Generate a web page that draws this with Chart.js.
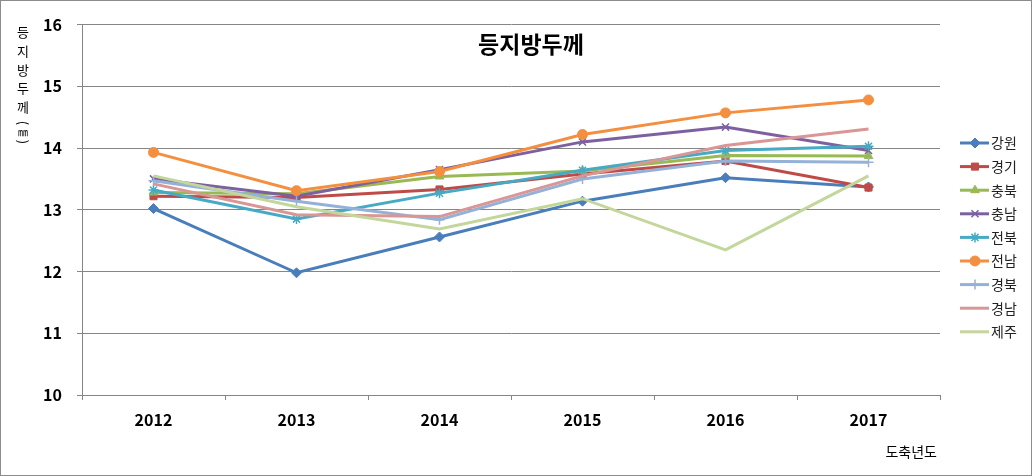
<!DOCTYPE html>
<html>
<head>
    <meta charset="utf-8">
    <title>등지방두께</title>
    <script src="https://cdn.jsdelivr.net/npm/chart.js"></script>
    <style>
        html, body { margin: 0; padding: 0; background: #fff; }
        #wrap { width: 1032px; height: 476px; }
    </style>
</head>
<body>
    <div id="wrap">
        <canvas id="myChart" width="1032" height="476"></canvas>
    </div>
    <script>
        // data
        const years = ['2012', '2013', '2014', '2015', '2016', '2017'];
        const regions = ['강원', '경기', '충북', '충남', '전북', '전남', '경북', '경남', '제주'];
        const gangwon = [13.02, 11.98, 12.56, 13.14, 13.52, 13.37];
        const gyeonggi = [13.22, 13.20, 13.33, 13.58, 13.79, 13.36];
        const chungbuk = [13.28, 13.26, 13.54, 13.63, 13.88, 13.87];
        const chungnam = [13.50, 13.22, 13.65, 14.10, 14.34, 13.96];
        const jeonbuk = [13.32, 12.85, 13.27, 13.64, 13.96, 14.03];
        const jeonnam = [13.93, 13.31, 13.62, 14.22, 14.57, 14.78];
        const gyeongbuk = [13.47, 13.14, 12.84, 13.50, 13.79, 13.77];
        const gyeongnam = [13.42, 12.92, 12.89, 13.55, 14.04, 14.31];
        const jeju = [13.55, 13.05, 12.69, 13.18, 12.35, 13.55];
        const yTicks = [10, 11, 12, 13, 14, 15, 16];

        const seriesValues = [gangwon, gyeonggi, chungbuk, chungnam, jeonbuk, jeonnam, gyeongbuk, gyeongnam, jeju];
        const colors = ['#4a7ebb', '#be4b48', '#98b954', '#7d60a0', '#46aac5', '#f38f3f', '#94b1d8', '#d99694', '#c3d69b'];
        const markers = ['rectRot', 'rect', 'triangle', 'crossRot', 'star', 'circle', 'cross', false, false];

        const datasets = regions.map((name, i) => ({
            label: name,
            data: seriesValues[i],
            borderColor: colors[i],
            backgroundColor: colors[i],
            borderWidth: 3,
            pointStyle: markers[i] || 'circle',
            pointRadius: markers[i] ? 5 : 0,
            pointBorderWidth: markers[i] && markers[i].startsWith('cross') || markers[i] === 'star' ? 1.5 : 1,
            pointBackgroundColor: colors[i],
            pointBorderColor: colors[i],
            tension: 0,
            fill: false,
            order: regions.length - i,
        }));

        const KR = "'Noto Sans CJK KR', 'Noto Sans', sans-serif";

        const extras = {
            id: 'extras',
            afterDraw(chart) {
                const ctx = chart.ctx;
                ctx.save();
                // outer border
                ctx.strokeStyle = '#8c8c8c';
                ctx.lineWidth = 1;
                ctx.strokeRect(0.5, 0.5, chart.width - 1, chart.height - 1);

                // title
                ctx.fillStyle = '#000';
                ctx.textAlign = 'center';
                ctx.textBaseline = 'middle';
                ctx.font = 'bold 23px ' + KR;
                ctx.fillText('등지방두께', 531, 44);

                // vertical y-axis title
                ctx.font = '13px ' + KR;
                const chars = ['등', '지', '방', '두', '께'];
                chars.forEach((c, i) => ctx.fillText(c, 23, 32 + i * 18.8));
                ctx.save();
                ctx.translate(23, 132);
                ctx.rotate(Math.PI / 2);
                ctx.fillText('(', -9, 0);
                ctx.fillText(')', 10, 0);
                ctx.restore();
                ctx.font = '10px ' + KR;
                ctx.fillText('㎜', 23, 132);

                // x-axis title
                ctx.font = '14px ' + KR;
                ctx.textAlign = 'right';
                ctx.fillText('도축년도', 937, 452);

                // legend
                ctx.textAlign = 'left';
                ctx.font = '14px ' + KR;
                regions.forEach((name, i) => {
                    const y = 143 + i * 23.6;
                    ctx.strokeStyle = colors[i];
                    ctx.fillStyle = colors[i];
                    ctx.lineWidth = 3;
                    ctx.beginPath();
                    ctx.moveTo(960, y);
                    ctx.lineTo(989, y);
                    ctx.stroke();
                    if (markers[i] && Chart.helpers && Chart.helpers.drawPoint) {
                        ctx.lineWidth = datasets[i].pointBorderWidth;
                        Chart.helpers.drawPoint(ctx, {
                            pointStyle: markers[i], radius: 5, rotation: 0,
                            borderWidth: datasets[i].pointBorderWidth
                        }, 975, y);
                    }
                    ctx.fillStyle = '#222';
                    ctx.fillText(name, 991, y);
                });
                ctx.restore();
            }
        };

        const ctx = document.getElementById('myChart').getContext('2d');
        const myChart = new Chart(ctx, {
            type: 'line',
            data: { labels: years, datasets: datasets },
            options: {
                responsive: false,
                animation: false,
                layout: { padding: { left: 0, top: 19, right: 92, bottom: 0 } },
                plugins: {
                    legend: { display: false },
                    title: { display: false },
                    tooltip: { enabled: false },
                },
                scales: {
                    x: {
                        offset: true,
                        grid: {
                            offset: true,
                            drawOnChartArea: false,
                            drawTicks: true,
                            tickLength: 5,
                            color: '#868686',
                        },
                        border: { color: '#868686', width: 1 },
                        ticks: {
                            color: '#000',
                            padding: 10,
                            font: { family: KR, size: 16, weight: 'bold' },
                        },
                        afterFit(scale) { scale.height = 81; },
                    },
                    y: {
                        min: 10,
                        max: 16,
                        afterBuildTicks(scale) { scale.ticks = yTicks.map(v => ({ value: v })); },
                        grid: {
                            color: '#868686',
                            drawTicks: true,
                            tickLength: 5,
                        },
                        border: { color: '#868686', width: 1 },
                        ticks: {
                            color: '#000',
                            padding: 15,
                            font: { family: KR, size: 16, weight: 'bold' },
                        },
                        afterFit(scale) { scale.width = 82; },
                    },
                },
            },
            plugins: [extras],
        });
    </script>
</body>
</html>
